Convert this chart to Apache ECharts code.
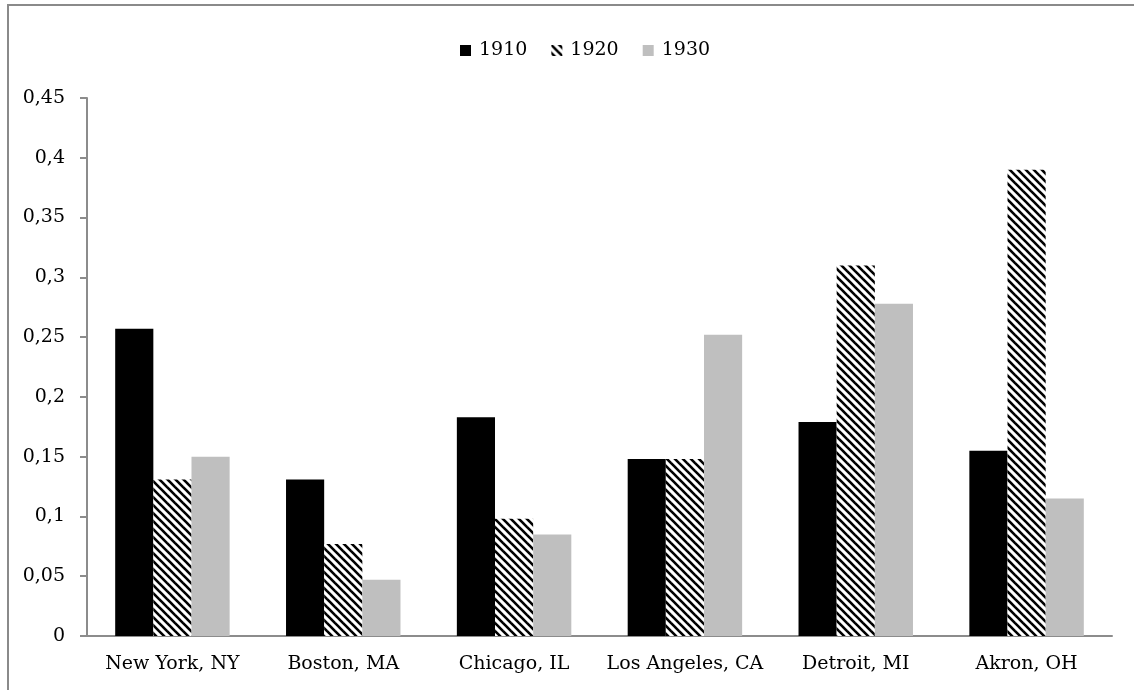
<!DOCTYPE html>
<html>
<head>
<meta charset="utf-8">
<script src="https://cdn.jsdelivr.net/npm/echarts@6/dist/echarts.min.js"></script>
<style>
  html, body { margin: 0; padding: 0; background: #fff; }
  #chart { width: 1134px; height: 690px; }
</style>
</head>
<body>
<div id="chart"></div>
<script>
// data
var cities = ['New York, NY', 'Boston, MA', 'Chicago, IL', 'Los Angeles, CA', 'Detroit, MI', 'Akron, OH'];
var years = ['1910', '1920', '1930'];
var v1910 = [0.257, 0.131, 0.183, 0.148, 0.179, 0.155];
var v1920 = [0.131, 0.077, 0.098, 0.148, 0.310, 0.390];
var v1930 = [0.150, 0.047, 0.085, 0.252, 0.278, 0.115];
var yTickLabels = ['0', '0,05', '0,1', '0,15', '0,2', '0,25', '0,3', '0,35', '0,4', '0,45'];

// hatch pattern for 1920 (backslash stripes)
function makeHatch() {
  var s = 8;
  var c = document.createElement('canvas');
  c.width = s; c.height = s;
  var ctx = c.getContext('2d');
  ctx.fillStyle = '#fff';
  ctx.fillRect(0, 0, s, s);
  ctx.strokeStyle = '#000';
  ctx.lineWidth = 2.6;
  for (var k = -1; k <= 1; k++) {
    ctx.beginPath();
    ctx.moveTo(-s, -s + k * s);
    ctx.lineTo(2 * s, 2 * s + k * s);
    ctx.stroke();
  }
  return c;
}

var font = 'DejaVu Serif';
var myChart = echarts.init(document.getElementById('chart'));
var seriesColors = ['#000000', { image: makeHatch(), repeat: 'repeat' }, '#bfbfbf'];
var seriesData = [v1910, v1920, v1930];

myChart.setOption({
  animation: false,
  graphic: [{
    type: 'rect',
    shape: { x: 8, y: 5, width: 1300, height: 900 },
    style: { fill: 'none', stroke: '#8a8a8a', lineWidth: 2 },
    silent: true
  }],
  legend: {
    data: years,
    top: 36,
    left: 455,
    icon: 'rect',
    itemWidth: 11,
    itemHeight: 11,
    itemGap: 24,
    textStyle: { fontFamily: font, fontSize: 19, color: '#000', padding: [0, 0, 0, 3] }
  },
  grid: { left: 87, right: 22, top: 98, bottom: 54 },
  xAxis: {
    type: 'category',
    data: cities,
    axisLine: { lineStyle: { color: '#8c8c8c', width: 2 } },
    axisTick: { length: 7, lineStyle: { color: '#8c8c8c', width: 2 } },
    axisLabel: { interval: 0, margin: 19, fontFamily: font, fontSize: 19, color: '#000' }
  },
  yAxis: {
    type: 'value',
    min: 0,
    max: 0.45,
    interval: 0.05,
    splitLine: { show: false },
    axisLine: { show: true, lineStyle: { color: '#8c8c8c', width: 2 } },
    axisTick: { show: true, length: 7, lineStyle: { color: '#8c8c8c', width: 2 } },
    axisLabel: {
      margin: 22,
      fontFamily: font,
      fontSize: 19,
      color: '#000',
      formatter: function (v) { return yTickLabels[Math.round(v / 0.05)]; }
    }
  },
  series: years.map(function (y, i) {
    return {
      name: y,
      type: 'bar',
      data: seriesData[i],
      barGap: '0%',
      barCategoryGap: '33%',
      itemStyle: { color: seriesColors[i] }
    };
  })
});
</script>
</body>
</html>
